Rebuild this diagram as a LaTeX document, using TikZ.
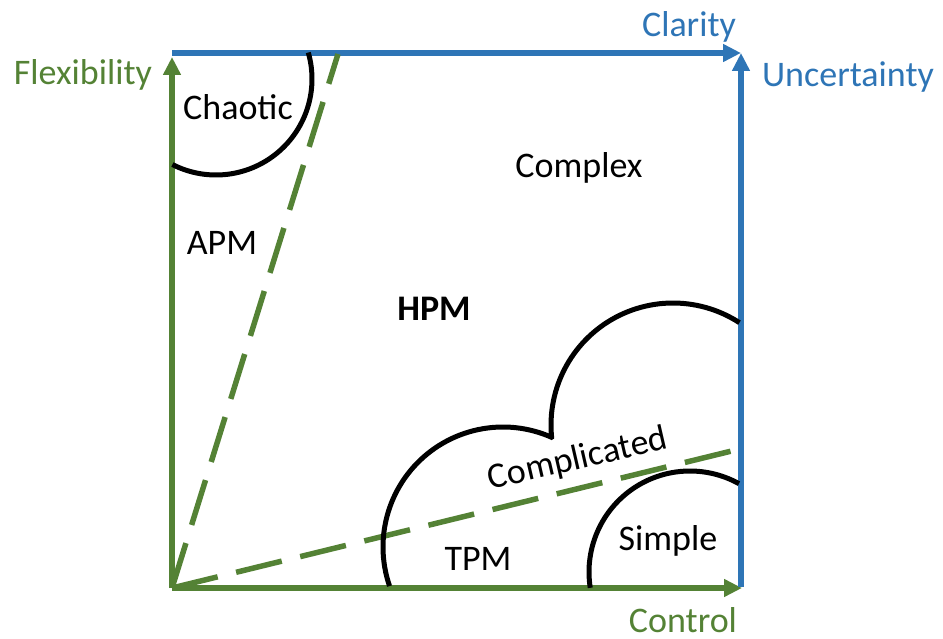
\documentclass[tikz,border=0pt]{standalone}
\usepackage{fontspec}
\setmainfont{Carlito}
\usetikzlibrary{arrows.meta}
\definecolor{cblue}{HTML}{2E75B6}
\definecolor{cgreen}{HTML}{548235}
\begin{document}
\begin{tikzpicture}[x=1pt,y=-1pt,
  bluearrow/.style={draw=cblue, line width=5.5pt, -{Triangle[length=18pt,width=17pt]}},
  greenarrow/.style={draw=cgreen, line width=5.5pt, -{Triangle[length=18pt,width=17pt]}},
  greendash/.style={draw=cgreen, line width=5.5pt, dash pattern=on 47pt off 19pt},
  regionline/.style={draw=black, line width=5pt, line join=round},
  lbl/.style={font=\fontsize{36}{43}\selectfont, inner sep=0pt, anchor=base},
]
\useasboundingbox (0,0) rectangle (943,639);
% coordinates
\coordinate (O) at (172,588);
\coordinate (TL) at (172,53);
\coordinate (TR) at (741,53);
\coordinate (BR) at (741,587);
\coordinate (GT) at (172,57);
\coordinate (GR) at (742,588);
\coordinate (D1) at (338,54);
\coordinate (D2) at (748,447);
% green axes
\draw[greenarrow] (O) -- (GT);
\draw[greenarrow] (O) -- (GR);
% blue axes
\draw[bluearrow] (TL) -- (TR);
\draw[bluearrow] (BR) -- (TR);
% dashed separators
\draw[greendash] (O) -- (D1);
\draw[greendash] (O) -- (D2);
% chaotic arc
\draw[regionline] plot[domain=-16:117, samples=60] ({216+96*cos(\x)},{79+96*sin(\x)});
% complicated cloud
\draw[regionline] plot[domain=161:294, samples=60] ({503+120*cos(\x)},{547+120*sin(\x)})
  -- plot[domain=174:303, samples=60] ({673+122*cos(\x)},{425+122*sin(\x)});
% simple arc
\draw[regionline] plot[domain=171:299, samples=60] ({690+101*cos(\x)},{572+101*sin(\x)});
% labels
\node[lbl, text=cblue] (clarity) at (689,37) {Clarity};
\node[lbl, text=cblue] (uncert) at (848,87) {Uncertainty};
\node[lbl, text=cgreen] (flex) at (83,85) {Flexibility};
\node[lbl, text=cgreen] (control) at (683,632) {Control};
\node[lbl] (chaotic) at (238,120) {Chaotic};
\node[lbl] (complex) at (579,178) {Complex};
\node[lbl] (apm) at (222,255) {APM};
\node[lbl, font=\fontsize{36}{43}\selectfont\bfseries] (hpm) at (434,320) {HPM};
\node[lbl, rotate=13] (complicated) at (580,469) {Complicated};
\node[lbl] (tpm) at (478,570) {TPM};
\node[lbl] (simple) at (668,550) {Simple};
\end{tikzpicture}
\end{document}
